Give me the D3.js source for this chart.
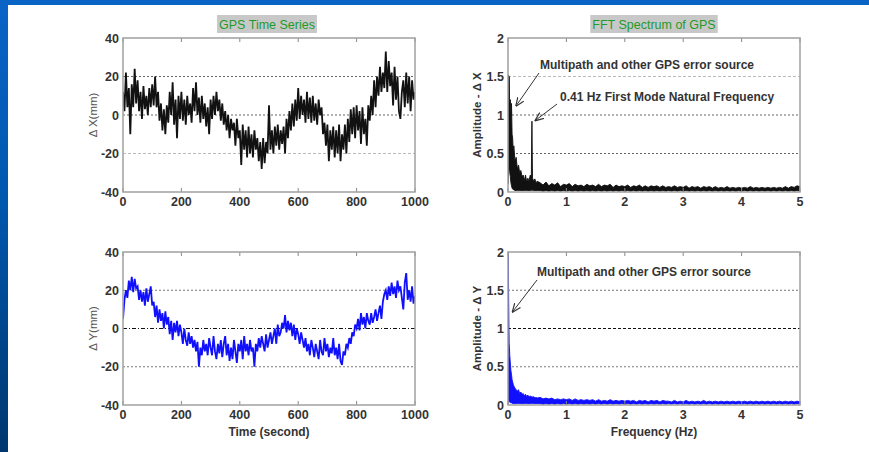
<!DOCTYPE html>
<html><head><meta charset="utf-8">
<script src="https://cdn.jsdelivr.net/npm/d3@7"></script>
<style>html,body{margin:0;padding:0;background:#fff;}svg{display:block;}</style>
</head><body>
<script>
// ---------------- DATA ----------------
const timeTicks = [0, 200, 400, 600, 800, 1000];
const dispTicks = [-40, -20, 0, 20, 40];
const freqTicks = [0, 1, 2, 3, 4, 5];
const ampTicks = [0, 0.5, 1, 1.5, 2];
const sampleStep = 5; // seconds between listed samples

const deltaX = [
 12, 2, 22, 4, 14, -10, 16, 4, 24, 6,
 18, 2, 12, -2, 15, 3, 10, 0, 14, 4,
 16, 5, 20, 4, 12, -3, 6, -8, 3, -10,
 5, -4, 12, 0, 17, -5, 8, -12, 10, -2,
 12, -3, 8, -5, 10, 0, 6, -4, 14, 2,
 17, 0, 9, -4, 10, -2, 6, -6, 4, -10,
 8, -2, 10, 0, 12, 2, 8, -3, 6, -5,
 2, -8, 0, -12, -2, -8, -4, -16, -2, -12,
 -8, -26, -5, -18, -8, -22, -6, -20, -10, -22,
 -8, -18, -12, -24, -14, -28, -12, -25, -14, -20,
 5, -18, -8, -20, -6, -16, -5, -18, -8, -15,
 -6, -20, -2, -12, 2, -8, 6, -6, 8, -3,
 14, -2, 10, 0, 8, -4, 12, -2, 9, -4,
 10, -3, 6, -5, 8, 0, 4, -10, -4, -16,
 -5, -24, -8, -18, -6, -22, -8, -20, -5, -24,
 -10, -18, -5, -20, -2, -14, 3, -10, 4, -12,
 5, -8, 2, -15, 4, -10, -2, -16, 5, -3,
 10, 0, 18, 4, 20, 10, 25, 12, 22, 14,
 33, 12, 28, 15, 22, 5, 25, 8, 20, 2,
 -2, 12, 18, 4, 22, 6, 20, 2, 18, 8,
 12
];
const deltaY = [
 5, 15, 20, 16, 25, 20, 27, 19, 26, 21,
 22, 15, 20, 14, 19, 12, 21, 14, 18, 22,
 12, 14, 6, 12, 3, 10, 4, 8, 0, 9,
 2, 6, -3, 4, -6, 3, -2, 4, -4, 2,
 -2, -8, 0, -6, -9, -2, -8, -4, -10, -6,
 -12, -7, -20, -10, -14, -6, -12, -8, -14, -5,
 -10, -14, -4, -12, -16, -8, -13, -6, -15, -8,
 -4, -14, -8, -17, -10, -16, -6, -12, -18, -8,
 -12, -6, -16, -4, -12, -8, -14, -6, -12, -10,
 -20, -8, -12, -5, -10, -4, -8, -12, -3, -10,
 -6, -2, -8, -4, 0, -8, 2, -4, -2, 3,
 0, 7, -2, 4, -1, 3, -4, 2, -6, 0,
 -3, -8, -2, -6, -10, -5, -12, -8, -14, -6,
 -10, -15, -8, -12, -16, -6, -12, -14, -5, -12,
 -8, -15, -10, -13, -5, -14, -10, -16, -8, -17,
 -19, -12, -14, -8, -10, -5, -8, -2, -4, 2,
 0, 5, -1, 8, 2, 6, 0, 8, 4, 2,
 8, 3, 6, 10, 4, 8, 12, 5, 14, 18,
 20, 15, 22, 17, 24, 18, 22, 16, 25, 20,
 22, 16, 10, 24, 29, 15, 20, 14, 22, 13,
 17
];

const fftFreq = [
 0, 0.005, 0.01, 0.015, 0.02, 0.025, 0.03, 0.04, 0.05, 0.06,
 0.07, 0.08, 0.09, 0.1, 0.12, 0.14, 0.16, 0.18, 0.2, 0.22,
 0.24, 0.26, 0.28, 0.3, 0.32, 0.34, 0.36, 0.38, 0.4, 0.405,
 0.41, 0.415, 0.42, 0.44, 0.46, 0.48, 0.5,
 0.55, 0.6, 0.65, 0.7, 0.75, 0.8, 0.85, 0.9, 0.95, 1.0,
 1.05, 1.1, 1.15, 1.2, 1.25, 1.3, 1.35, 1.4, 1.45, 1.5,
 1.55, 1.6, 1.65, 1.7, 1.75, 1.8, 1.85, 1.9, 1.95, 2.0,
 2.05, 2.1, 2.15, 2.2, 2.25, 2.3, 2.35, 2.4, 2.45, 2.5,
 2.55, 2.6, 2.65, 2.7, 2.75, 2.8, 2.85, 2.9, 2.95, 3.0,
 3.05, 3.1, 3.15, 3.2, 3.25, 3.3, 3.35, 3.4, 3.45, 3.5,
 3.55, 3.6, 3.65, 3.7, 3.75, 3.8, 3.85, 3.9, 3.95, 4.0,
 4.05, 4.1, 4.15, 4.2, 4.25, 4.3, 4.35, 4.4, 4.45, 4.5,
 4.55, 4.6, 4.65, 4.7, 4.75, 4.8, 4.85, 4.9, 4.95, 5.0
];
const ampXHigh = [
 0.3, 0.8, 1.52, 1.0, 1.5, 1.2, 1.15, 1.2, 1.0, 1.15,
 0.75, 0.7, 0.5, 0.6, 0.4, 0.45, 0.3, 0.35, 0.25, 0.28,
 0.2, 0.22, 0.15, 0.22, 0.13, 0.18, 0.14, 0.22, 0.2, 0.66,
 0.92, 0.5, 0.18, 0.14, 0.17, 0.12, 0.14,
 0.12, 0.09, 0.13, 0.08, 0.11, 0.09, 0.12, 0.07, 0.1, 0.09,
 0.11, 0.07, 0.1, 0.08, 0.09, 0.07, 0.1, 0.08, 0.09, 0.07,
 0.1, 0.07, 0.09, 0.08, 0.1, 0.06, 0.09, 0.07, 0.08, 0.07,
 0.09, 0.06, 0.08, 0.07, 0.09, 0.06, 0.08, 0.06, 0.08, 0.07,
 0.08, 0.06, 0.08, 0.06, 0.07, 0.06, 0.08, 0.06, 0.07, 0.06,
 0.08, 0.05, 0.07, 0.06, 0.07, 0.05, 0.07, 0.06, 0.07, 0.05,
 0.07, 0.05, 0.06, 0.05, 0.07, 0.05, 0.06, 0.05, 0.06, 0.05,
 0.06, 0.05, 0.07, 0.05, 0.06, 0.05, 0.06, 0.05, 0.06, 0.05,
 0.06, 0.05, 0.06, 0.05, 0.07, 0.05, 0.07, 0.06, 0.08, 0.07
];
const ampXLow = [
 0.1, 0.2, 0.3, 0.3, 0.3, 0.3, 0.25, 0.2, 0.12, 0.08,
 0.05, 0.04, 0.03, 0.03, 0.02, 0.02, 0.02, 0.02, 0.02, 0.02,
 0.02, 0.02, 0.02, 0.02, 0.02, 0.02, 0.02, 0.02, 0.02, 0.03,
 0.03, 0.03, 0.02, 0.02, 0.02, 0.02, 0.02,
 0.02, 0.01, 0.02, 0.01, 0.02, 0.01, 0.02, 0.01, 0.02, 0.01,
 0.02, 0.01, 0.02, 0.01, 0.02, 0.01, 0.02, 0.01, 0.02, 0.01,
 0.02, 0.01, 0.02, 0.01, 0.02, 0.01, 0.02, 0.01, 0.02, 0.01,
 0.02, 0.01, 0.02, 0.01, 0.02, 0.01, 0.02, 0.01, 0.02, 0.01,
 0.02, 0.01, 0.02, 0.01, 0.02, 0.01, 0.02, 0.01, 0.02, 0.01,
 0.02, 0.01, 0.02, 0.01, 0.02, 0.01, 0.02, 0.01, 0.02, 0.01,
 0.02, 0.01, 0.02, 0.01, 0.02, 0.01, 0.02, 0.01, 0.02, 0.01,
 0.02, 0.01, 0.02, 0.01, 0.02, 0.01, 0.02, 0.01, 0.02, 0.01,
 0.02, 0.01, 0.02, 0.01, 0.02, 0.01, 0.02, 0.01, 0.02, 0.01
];
const ampYHigh = [
 2.0, 1.9, 1.5, 1.1, 0.8, 0.75, 0.65, 0.55, 0.45, 0.4,
 0.33, 0.3, 0.27, 0.25, 0.22, 0.2, 0.18, 0.2, 0.15, 0.17,
 0.14, 0.15, 0.12, 0.14, 0.11, 0.13, 0.1, 0.12, 0.1, 0.11,
 0.09, 0.11, 0.09, 0.11, 0.09, 0.1, 0.09,
 0.1, 0.08, 0.09, 0.08, 0.09, 0.07, 0.08, 0.07, 0.08, 0.07,
 0.08, 0.06, 0.08, 0.06, 0.07, 0.06, 0.07, 0.06, 0.07, 0.05,
 0.07, 0.05, 0.06, 0.05, 0.07, 0.05, 0.06, 0.05, 0.06, 0.05,
 0.06, 0.05, 0.06, 0.04, 0.06, 0.05, 0.06, 0.04, 0.06, 0.05,
 0.06, 0.04, 0.06, 0.05, 0.05, 0.04, 0.06, 0.04, 0.05, 0.04,
 0.06, 0.04, 0.05, 0.04, 0.05, 0.04, 0.06, 0.04, 0.05, 0.04,
 0.05, 0.04, 0.05, 0.04, 0.05, 0.04, 0.05, 0.04, 0.05, 0.04,
 0.05, 0.04, 0.05, 0.04, 0.05, 0.04, 0.05, 0.04, 0.05, 0.04,
 0.05, 0.04, 0.05, 0.04, 0.05, 0.04, 0.05, 0.04, 0.05, 0.04
];
const ampYLow = [
 0.0, 0.05, 0.06, 0.05, 0.05, 0.04, 0.04, 0.03, 0.03, 0.03,
 0.02, 0.02, 0.02, 0.02, 0.02, 0.02, 0.02, 0.02, 0.02, 0.02,
 0.02, 0.02, 0.02, 0.02, 0.02, 0.02, 0.02, 0.02, 0.02, 0.02,
 0.02, 0.02, 0.02, 0.02, 0.02, 0.02, 0.02,
 0.02, 0.01, 0.02, 0.01, 0.02, 0.01, 0.02, 0.01, 0.02, 0.01,
 0.02, 0.01, 0.02, 0.01, 0.02, 0.01, 0.02, 0.01, 0.02, 0.01,
 0.02, 0.01, 0.02, 0.01, 0.02, 0.01, 0.02, 0.01, 0.02, 0.01,
 0.02, 0.01, 0.02, 0.01, 0.02, 0.01, 0.02, 0.01, 0.02, 0.01,
 0.02, 0.01, 0.02, 0.01, 0.02, 0.01, 0.02, 0.01, 0.02, 0.01,
 0.02, 0.01, 0.02, 0.01, 0.02, 0.01, 0.02, 0.01, 0.02, 0.01,
 0.02, 0.01, 0.02, 0.01, 0.02, 0.01, 0.02, 0.01, 0.02, 0.01,
 0.02, 0.01, 0.02, 0.01, 0.02, 0.01, 0.02, 0.01, 0.02, 0.01,
 0.02, 0.01, 0.02, 0.01, 0.02, 0.01, 0.02, 0.01, 0.02, 0.01
];

const titles = ["GPS Time Series", "FFT Spectrum of GPS"];
const yLabels = ["Δ X(mm)", "Amplitude - Δ X", "Δ Y(mm)", "Amplitude - Δ Y"];
const xLabels = ["Time (second)", "Frequency (Hz)"];
const noteMultipath = "Multipath and other GPS error source";
const noteMode = "0.41 Hz First Mode Natural Frequency";

// ---------------- DRAW ----------------
const W = 869, H = 452;
const svg = d3.select("body").append("svg").attr("width", W).attr("height", H);
const defs = svg.append("defs");
const grad = defs.append("linearGradient").attr("id", "side").attr("x1", 0).attr("y1", 0).attr("x2", 0).attr("y2", 1);
grad.append("stop").attr("offset", "0%").attr("stop-color", "#0a64c6");
grad.append("stop").attr("offset", "45%").attr("stop-color", "#0057ae");
grad.append("stop").attr("offset", "100%").attr("stop-color", "#00376e");
defs.append("marker").attr("id", "arrow").attr("viewBox", "0 0 10 10").attr("refX", 9).attr("refY", 5)
  .attr("markerWidth", 9).attr("markerHeight", 9).attr("markerUnits", "userSpaceOnUse").attr("orient", "auto")
  .append("path").attr("d", "M0,1 L10,5 L0,9").attr("fill", "none").attr("stroke", "#333").attr("stroke-width", 1.3);

svg.append("rect").attr("x", 0).attr("y", 0).attr("width", W).attr("height", H).attr("fill", "#fff");
svg.append("rect").attr("x", 0).attr("y", 0).attr("width", W).attr("height", 5).attr("fill", "#0a64c6");
svg.append("rect").attr("x", 0).attr("y", 0).attr("width", 8).attr("height", H).attr("fill", "url(#side)");

const FONT = "Liberation Sans, Arial, Helvetica, sans-serif";
const panels = [
  {x0: 123, x1: 415, y0: 38, y1: 192, xd: [0, 1000], yd: [-40, 40], xt: timeTicks, yt: dispTicks},
  {x0: 508, x1: 800, y0: 38, y1: 192, xd: [0, 5], yd: [0, 2], xt: freqTicks, yt: ampTicks},
  {x0: 123, x1: 415, y0: 252, y1: 405, xd: [0, 1000], yd: [-40, 40], xt: timeTicks, yt: dispTicks},
  {x0: 508, x1: 800, y0: 252, y1: 405, xd: [0, 5], yd: [0, 2], xt: freqTicks, yt: ampTicks}
];
const gridStyles = [
  [{c: "#bbb", d: "3,2"}, {c: "#666", d: "2,2"}, {c: "#666", d: "2,2"}],
  [{c: "#666", d: "2,2"}, {c: "#666", d: "2,2"}, {c: "#bbb", d: "3,2"}],
  [{c: "#777", d: "2,2"}, {c: "#111", d: "4,2,1,2"}, {c: "#777", d: "2,2"}],
  [{c: "#777", d: "2,2"}, {c: "#111", d: "3,2"}, {c: "#777", d: "2,2"}]
];

panels.forEach((p, i) => {
  p.x = d3.scaleLinear().domain(p.xd).range([p.x0, p.x1]);
  p.y = d3.scaleLinear().domain(p.yd).range([p.y1, p.y0]);
  const g = svg.append("g");
  defs.append("clipPath").attr("id", "clip" + i).append("rect")
    .attr("x", p.x0).attr("y", p.y0).attr("width", p.x1 - p.x0).attr("height", p.y1 - p.y0);
  const inner = p.yt.slice(1, -1);
  inner.forEach((v, k) => {
    const st = gridStyles[i][k];
    g.append("line").attr("x1", p.x0).attr("x2", p.x1).attr("y1", p.y(v)).attr("y2", p.y(v))
      .attr("stroke", st.c).attr("stroke-width", 1).attr("stroke-dasharray", st.d);
  });
  p.g = g;
});

const line = (p) => d3.line().x(d => p.x(d[0])).y(d => p.y(d[1]));
const tsX = deltaX.map((v, k) => [k * sampleStep, v]);
const tsY = deltaY.map((v, k) => [k * sampleStep, v]);
panels[0].g.append("path").datum(tsX).attr("clip-path", "url(#clip0)")
  .attr("d", line(panels[0])).attr("fill", "none").attr("stroke", "#111").attr("stroke-width", 1.8)
  .attr("stroke-linejoin", "miter");
panels[2].g.append("path").datum(tsY).attr("clip-path", "url(#clip2)")
  .attr("d", line(panels[2])).attr("fill", "none").attr("stroke", "#1010ff").attr("stroke-width", 1.8);

function spectrum(p, hi, lo, color, idx) {
  const data = fftFreq.map((f, k) => ({f, hi: hi[k], lo: lo[k]}));
  const area = d3.area().x(d => p.x(d.f)).y0(d => p.y(d.lo)).y1(d => p.y(d.hi));
  p.g.append("path").datum(data).attr("clip-path", "url(#clip" + idx + ")")
    .attr("d", area).attr("fill", color).attr("stroke", color).attr("stroke-width", 0.9);
}
spectrum(panels[1], ampXHigh, ampXLow, "#111", 1);
spectrum(panels[3], ampYHigh, ampYLow, "#1010ff", 3);

panels.forEach((p, i) => {
  const g = svg.append("g");
  p.xt.forEach(v => {
    g.append("line").attr("x1", p.x(v)).attr("x2", p.x(v)).attr("y1", p.y0).attr("y2", p.y0 + 4).attr("stroke", "#888");
    g.append("line").attr("x1", p.x(v)).attr("x2", p.x(v)).attr("y1", p.y1).attr("y2", p.y1 - 4).attr("stroke", "#888");
    g.append("text").attr("x", p.x(v)).attr("y", p.y1 + 14).attr("text-anchor", "middle")
      .attr("font-family", FONT).attr("font-size", 12.5).attr("font-weight", "bold").attr("fill", "#333").text(v);
  });
  p.yt.forEach(v => {
    g.append("text").attr("x", p.x0 - 4).attr("y", p.y(v) + 4.5).attr("text-anchor", "end")
      .attr("font-family", FONT).attr("font-size", 12.5).attr("font-weight", "bold").attr("fill", "#333").text(v);
  });
  g.append("rect").attr("x", p.x0).attr("y", p.y0).attr("width", p.x1 - p.x0).attr("height", p.y1 - p.y0)
    .attr("fill", "none").attr("stroke", "#a0a0a0").attr("stroke-width", 1.5);
  const isAmp = i % 2 === 1;
  g.append("text").attr("transform", `translate(${isAmp ? p.x0 - 27 : p.x0 - 26},${(p.y0 + p.y1) / 2}) rotate(-90)`)
    .attr("text-anchor", "middle").attr("font-family", FONT).attr("font-size", 11.5)
    .attr("font-weight", isAmp ? "bold" : "normal").attr("fill", isAmp ? "#333" : "#555").text(yLabels[i]);
  if (i >= 2) {
    g.append("text").attr("x", (p.x0 + p.x1) / 2).attr("y", 436).attr("text-anchor", "middle")
      .attr("font-family", FONT).attr("font-size", 12).attr("font-weight", "bold").attr("fill", "#333").text(xLabels[i - 2]);
  }
});

// titles with grey background
[[0, 267], [1, 654]].forEach(([k, cx]) => {
  const tg = svg.append("g");
  const bg = tg.append("rect").attr("y", 15).attr("height", 18).attr("fill", "#c8c8c8");
  const t = tg.append("text").attr("x", cx).attr("y", 28.5).attr("text-anchor", "middle")
    .attr("font-family", FONT).attr("font-size", 12.5).attr("fill", "#1f9a2a").text(titles[k]);
  const bb = t.node().getBBox();
  bg.attr("x", bb.x - 2).attr("width", bb.width + 4);
});

// annotations
function note(txt, tx, ty) {
  svg.append("text").attr("x", tx).attr("y", ty).attr("font-family", FONT).attr("font-size", 12)
    .attr("font-weight", "bold").attr("fill", "#333").text(txt);
}
function arrow(x1, y1, x2, y2) {
  svg.append("line").attr("x1", x1).attr("y1", y1).attr("x2", x2).attr("y2", y2)
    .attr("stroke", "#333").attr("stroke-width", 1).attr("marker-end", "url(#arrow)");
}
const P2 = panels[1], P4 = panels[3];
note(noteMultipath, 540, 69);
arrow(539, 73, P2.x(0.14), P2.y(1.12));
note(noteMode, 560, 101);
arrow(557, 104, P2.x(0.47), P2.y(0.93));
note(noteMultipath, 537, 276);
arrow(537, 280, P4.x(0.08), P4.y(1.22));
</script>
</body></html>
